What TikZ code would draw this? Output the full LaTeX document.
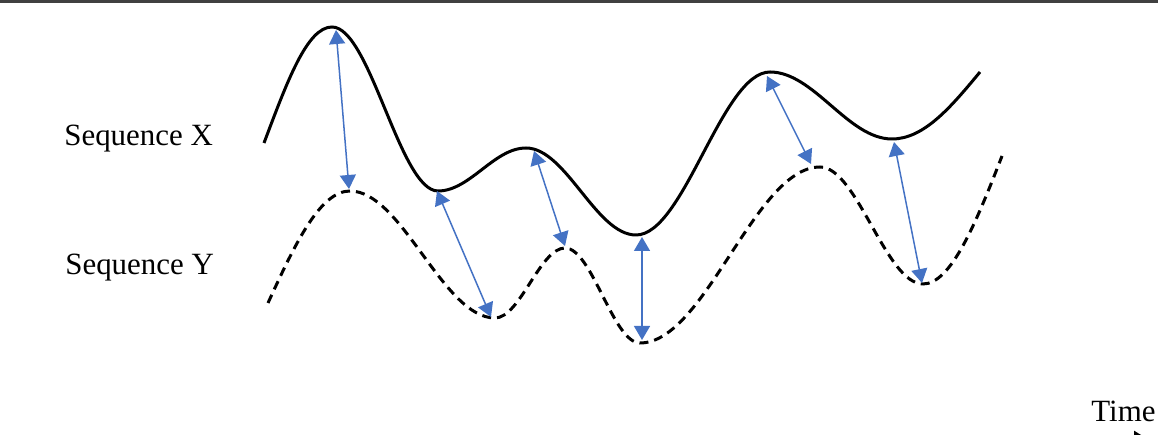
\documentclass[tikz,border=0pt]{standalone}
\usepackage{fontspec}
\setmainfont{Liberation Serif}
\usetikzlibrary{arrows.meta}
\definecolor{gapblue}{RGB}{68,114,196}

\begin{document}
\begin{tikzpicture}[x=0.02cm,y=0.02cm,
  seqx/.style={line width=0.06cm,black},
  seqy/.style={seqx,dash pattern=on 0.18cm off 0.12cm},
  gap/.style={line width=0.03cm,gapblue,{Triangle[length=0.28cm,width=0.32cm]}-{Triangle[length=0.28cm,width=0.32cm]}},
  lbl/.style={anchor=base west,inner sep=0pt,font=\fontsize{17.6}{20}\selectfont}]
\clip (0,0) rectangle (1158,435);
\draw[line width=0.06cm,darkgray] (0,433.5) -- (1158,433.5);

\draw[seqx] (264,292) .. controls +(23,61) and +(-25,0) .. (332,408)
  .. controls +(38,0) and +(-38,0) .. (438,244)
  .. controls +(32,0) and +(-32,0) .. (526,287)
  .. controls +(40,0) and +(-40,0) .. (636,200)
  .. controls +(48,0) and +(-48,0) .. (770,363)
  .. controls +(44,0) and +(-44,0) .. (892,296)
  .. controls +(32,0) and +(-29,-35) .. (980,363);

\draw[seqy] (268,132) .. controls +(27,59) and +(-30,0) .. (350,244)
  .. controls +(52,0) and +(-52,0) .. (495,117)
  .. controls +(25,0) and +(-25,0) .. (565,187)
  .. controls +(27,0) and +(-27,0) .. (640,92)
  .. controls +(65,0) and +(-65,0) .. (820,268)
  .. controls +(37,0) and +(-37,0) .. (923,151)
  .. controls +(28,0) and +(-26,-67) .. (1002,279);

\foreach \i/\xa/\ya/\xb/\yb in {1/336/405/349/246,2/437/244/491/118,3/534/284/565/189,
  4/642/198/642/95,5/767/359/811/271,6/894/293/922/152}{
  \coordinate (x\i) at (\xa,\ya);
  \coordinate (y\i) at (\xb,\yb);
  \draw[gap] (x\i) -- (y\i);
}

\node[lbl] (seqXlabel) at (64,289) {Sequence X};
\node[lbl] (seqYlabel) at (65,160) {Sequence Y};
\node[lbl] (timelabel) at (1091,13) {Time};

\coordinate (t0) at (1080,-3);
\coordinate (t1) at (1146,-3);
\draw[line width=0.05cm,-{Triangle[length=0.24cm,width=0.28cm]}] (t0) -- (t1);
\end{tikzpicture}
\end{document}
